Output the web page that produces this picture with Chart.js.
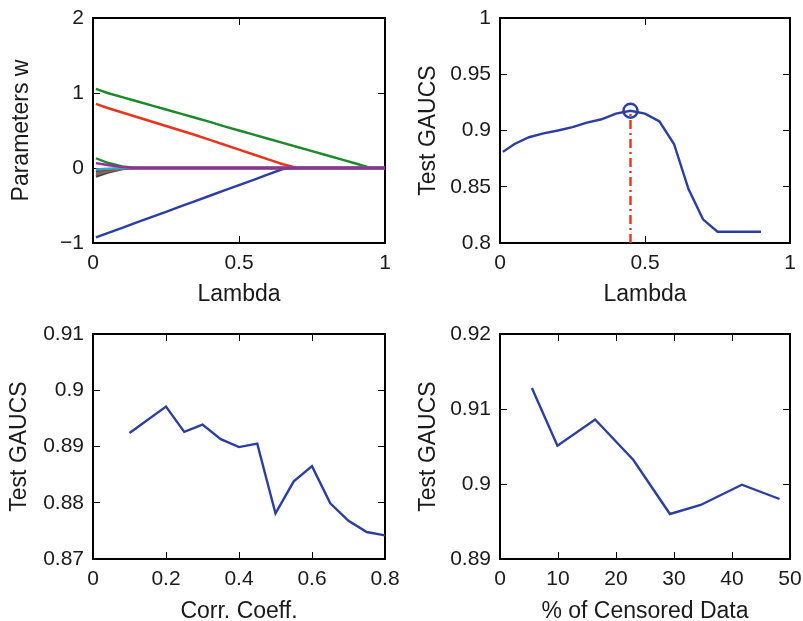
<!DOCTYPE html>
<html>
<head>
<meta charset="utf-8">
<script src="https://cdn.jsdelivr.net/npm/chart.js@4.4.1/dist/chart.umd.min.js"></script>
<style>
    html, body { margin: 0; padding: 0; background: #fff; overflow: hidden; }
    body { width: 803px; height: 621px; position: relative; }
    canvas { position: absolute; }
</style>
</head>
<body>
<canvas id="pathChart" width="400" height="310" style="left:0px;top:0px"></canvas>
<canvas id="lambdaChart" width="403" height="310" style="left:400px;top:0px"></canvas>
<canvas id="corrChart" width="400" height="311" style="left:0px;top:310px"></canvas>
<canvas id="censChart" width="403" height="311" style="left:400px;top:310px"></canvas>
<script>
// regularisation path: weights vs lambda
const pathLambda = [0.01, 0.05, 0.1, 0.15, 0.2, 0.25, 0.3, 0.35, 0.4, 0.45, 0.5, 0.55, 0.6, 0.65, 0.7, 0.75, 0.8, 0.85, 0.9, 0.95, 1];
const wGreenA = [1.055, 1.0, 0.945, 0.89, 0.835, 0.78, 0.725, 0.67, 0.615, 0.555, 0.5, 0.445, 0.39, 0.335, 0.28, 0.225, 0.17, 0.115, 0.06, 0, 0];
const wRedA = [0.855, 0.8, 0.74, 0.68, 0.62, 0.56, 0.5, 0.44, 0.375, 0.31, 0.245, 0.18, 0.115, 0.05, 0, 0, 0, 0, 0, 0, 0];
const wBlueA = [-0.925, -0.868, -0.797, -0.726, -0.655, -0.584, -0.513, -0.441, -0.37, -0.299, -0.228, -0.157, -0.085, -0.014, 0, 0, 0, 0, 0, 0, 0];
const wGreenB = [0.13, 0.07, 0.02, 0, 0, 0, 0, 0, 0, 0, 0, 0, 0, 0, 0, 0, 0, 0, 0, 0, 0];
const wMagenta = [0.065, 0.04, 0.012, 0, 0, 0, 0, 0, 0, 0, 0, 0, 0, 0, 0, 0, 0, 0, 0, 0, 0];
const wCyan = [-0.02, -0.01, -0.003, 0, 0, 0, 0, 0, 0, 0, 0, 0, 0, 0, 0, 0, 0, 0, 0, 0, 0];
const wBlueB = [-0.035, -0.018, -0.005, 0, 0, 0, 0, 0, 0, 0, 0, 0, 0, 0, 0, 0, 0, 0, 0, 0, 0];
const wRedB = [-0.055, -0.03, -0.008, 0, 0, 0, 0, 0, 0, 0, 0, 0, 0, 0, 0, 0, 0, 0, 0, 0, 0];
const wGray = [-0.085, -0.045, -0.012, 0, 0, 0, 0, 0, 0, 0, 0, 0, 0, 0, 0, 0, 0, 0, 0, 0, 0];
const wDark = [-0.115, -0.06, -0.015, 0, 0, 0, 0, 0, 0, 0, 0, 0, 0, 0, 0, 0, 0, 0, 0, 0, 0];

// test GAUCS vs lambda
const gaucLambda = [0.01, 0.05, 0.1, 0.15, 0.2, 0.25, 0.3, 0.35, 0.4, 0.45, 0.5, 0.55, 0.6, 0.65, 0.7, 0.75, 0.8, 0.85, 0.9];
const gaucTest = [0.881, 0.888, 0.894, 0.8975, 0.9, 0.903, 0.907, 0.91, 0.915, 0.9176, 0.915, 0.908, 0.888, 0.848, 0.821, 0.81, 0.81, 0.81, 0.81];
const bestLambda = 0.45;
const bestGauc = 0.9176;

// test GAUCS vs correlation coefficient
const corrCoeff = [0.1, 0.2, 0.25, 0.3, 0.35, 0.4, 0.45, 0.5, 0.55, 0.6, 0.65, 0.7, 0.75, 0.8];
const corrGauc = [0.8924, 0.8971, 0.8926, 0.8939, 0.8913, 0.8899, 0.8905, 0.8781, 0.8838, 0.8865, 0.8799, 0.8768, 0.8748, 0.8742];

// test GAUCS vs share of censored data
const censPct = [5.5, 9.9, 16.4, 23.0, 29.3, 34.6, 41.7, 48.2];
const censGauc = [0.9128, 0.9051, 0.9086, 0.9032, 0.896, 0.8972, 0.8999, 0.898];

const BLUE = '#2c3e9e';
const RED = '#e8341c';
const GREEN = '#1b8a2b';
const INK = '#1a1a1a';
const LW = 2.4;

Chart.defaults.font.family = "'Liberation Sans', Arial, Helvetica, sans-serif";
Chart.defaults.color = INK;
Chart.defaults.animation = false;

function xy(xs, ys) {
    return xs.map((x, i) => ({ x: x, y: ys[i] }));
}

function line(xs, ys, color) {
    return {
        data: xy(xs, ys),
        borderColor: color,
        borderWidth: LW,
        pointRadius: 0,
        tension: 0,
        fill: false
    };
}

function fmt(v) {
    const r = Math.round(v * 1e6) / 1e6;
    return r < 0 ? '\u2212' + (-r) : String(r);
}

// fixed axis size, and no extra room for labels hanging over the ends
function fixSize(dim, size) {
    return s => {
        s[dim] = size;
        s.paddingTop = 0;
        s.paddingBottom = 0;
        s.paddingLeft = 0;
        s.paddingRight = 0;
    };
}

// matlab-like box: ticks pointing inwards on all four sides
function boxScales(o) {
    const grid = { drawOnChartArea: false, tickLength: -7, color: '#000', lineWidth: 1 };
    const border = { color: '#000', width: 2 };
    return {
        x: {
            type: 'linear', position: 'bottom', min: o.xMin, max: o.xMax,
            ticks: { stepSize: o.xStep, padding: 15, font: { size: 21 }, color: INK, maxRotation: 0, autoSkip: false, callback: fmt },
            grid: grid, border: border,
            title: { display: true, text: o.xTitle, color: INK, font: { size: 23 }, padding: { top: 0, bottom: o.xTitlePad } },
            afterFit: fixSize('height', o.xHeight)
        },
        y: {
            type: 'linear', position: 'left', min: o.yMin, max: o.yMax,
            ticks: { stepSize: o.yStep, padding: 16, font: { size: 21 }, color: INK, autoSkip: false, callback: fmt },
            grid: grid, border: border,
            title: { display: true, text: o.yTitle, color: INK, font: { size: 23 }, padding: { top: o.yTitlePad, bottom: 0 } },
            afterFit: fixSize('width', o.yWidth)
        },
        x2: {
            type: 'linear', position: 'top', min: o.xMin, max: o.xMax,
            ticks: { stepSize: o.xStep, display: false },
            grid: grid, border: border,
            afterFit: fixSize('height', 0)
        },
        y2: {
            type: 'linear', position: 'right', min: o.yMin, max: o.yMax,
            ticks: { stepSize: o.yStep, display: false },
            grid: grid, border: border,
            afterFit: fixSize('width', 0)
        }
    };
}

function makeChart(id, datasets, scales, padding) {
    const ctx = document.getElementById(id).getContext('2d');
    return new Chart(ctx, {
        type: 'line',
        data: { datasets: datasets },
        options: {
            responsive: false,
            layout: { padding: padding },
            plugins: { legend: { display: false }, tooltip: { enabled: false } },
            scales: scales
        }
    });
}

// top left
makeChart('pathChart', [
    line(pathLambda, wMagenta, '#a3289f'),
    line(pathLambda, wCyan, '#2bb3b3'),
    line(pathLambda, wBlueB, BLUE),
    line(pathLambda, wRedB, RED),
    line(pathLambda, wGray, '#707070'),
    line(pathLambda, wDark, '#454545'),
    line(pathLambda, wGreenB, GREEN),
    line(pathLambda, wGreenA, GREEN),
    line(pathLambda, wRedA, RED),
    line(pathLambda, wBlueA, BLUE)
], boxScales({
    xMin: 0, xMax: 1, xStep: 0.5, xTitle: 'Lambda', xTitlePad: 2, xHeight: 67,
    yMin: -1, yMax: 2, yStep: 1, yTitle: 'Parameters w', yTitlePad: 8, yWidth: 93
}), { left: 0, top: 18, right: 15, bottom: 0 });

// top right
makeChart('lambdaChart', [
    {
        data: [{ x: bestLambda, y: bestGauc }],
        showLine: false,
        pointRadius: 7,
        pointBorderWidth: 2.4,
        pointBorderColor: BLUE,
        pointBackgroundColor: 'rgba(0,0,0,0)'
    },
    {
        data: [{ x: bestLambda, y: 0.8 }, { x: bestLambda, y: bestGauc }],
        borderColor: RED,
        borderWidth: LW,
        borderDash: [9, 4, 2, 4],
        pointRadius: 0
    },
    line(gaucLambda, gaucTest, BLUE)
], boxScales({
    xMin: 0, xMax: 1, xStep: 0.5, xTitle: 'Lambda', xTitlePad: 2, xHeight: 67,
    yMin: 0.8, yMax: 1, yStep: 0.05, yTitle: 'Test GAUCS', yTitlePad: 15, yWidth: 100
}), { left: 0, top: 18, right: 13, bottom: 0 });

// bottom left
makeChart('corrChart', [
    line(corrCoeff, corrGauc, BLUE)
], boxScales({
    xMin: 0, xMax: 0.8, xStep: 0.2, xTitle: 'Corr. Coeff.', xTitlePad: -4, xHeight: 62,
    yMin: 0.87, yMax: 0.91, yStep: 0.01, yTitle: 'Test GAUCS', yTitlePad: 6, yWidth: 93
}), { left: 0, top: 24, right: 15, bottom: 0 });

// bottom right
makeChart('censChart', [
    line(censPct, censGauc, BLUE)
], boxScales({
    xMin: 0, xMax: 50, xStep: 10, xTitle: '% of Censored Data', xTitlePad: -4, xHeight: 62,
    yMin: 0.89, yMax: 0.92, yStep: 0.01, yTitle: 'Test GAUCS', yTitlePad: 15, yWidth: 100
}), { left: 0, top: 24, right: 13, bottom: 0 });
</script>
</body>
</html>
